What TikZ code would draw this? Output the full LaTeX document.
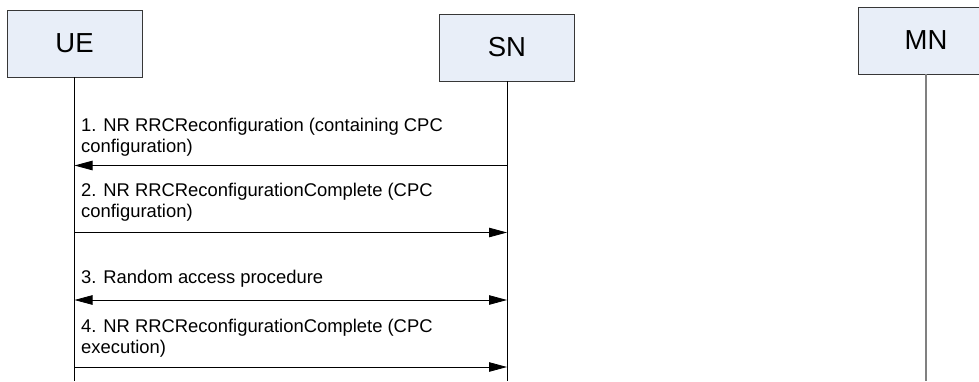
\documentclass[tikz,border=0pt]{standalone}
\usepackage{fontspec}
\setmainfont{Liberation Sans}
\usetikzlibrary{arrows.meta}
\definecolor{boxfill}{RGB}{232,238,248}
\definecolor{boxline}{RGB}{55,55,55}

\begin{document}
\begin{tikzpicture}[x=1pt,y=-1pt,>={Triangle[length=18pt,width=9.5pt]},
  entity/.style={draw=boxline,fill=boxfill,line width=0.9pt,minimum width=135pt,
                 minimum height=67pt,font=\fontsize{27.5}{30}\selectfont},
  life/.style={line width=0.8pt},
  msg/.style={line width=0.8pt},
  msgtext/.style={anchor=base west,align=left,inner sep=0pt,
                  font=\fontsize{18.4}{21}\selectfont}]
\useasboundingbox (0,0) rectangle (979,381);

% entities
\node[entity] (ue) at (74.5,43.5) {UE};
\node[entity] (sn) at (507,47.5)  {SN};
\node[entity] (mn) at (926,40.5)  {MN};
\coordinate (end) at (0,381);

% lifelines
\draw[life] (ue.south) -- (ue.south |- end);
\draw[life] (sn.south) -- (sn.south |- end);
\draw[life,gray,line width=1.2pt] (mn.south) -- (mn.south |- end);

% message points
\foreach \n/\y in {1/165.5,2/232.5,3/300,4/367} {
  \coordinate (ue\n) at (ue.south |- 0,\y);
  \coordinate (sn\n) at (sn.south |- 0,\y);
}

% messages (label anchored on its last baseline)
\draw[msg,->]  (sn1) -- (ue1);
\node[msgtext] (l1) at (81,152) {1. NR RRCReconfiguration (containing CPC\\configuration)};
\draw[msg,->]  (ue2) -- (sn2);
\node[msgtext] (l2) at (81,217) {2. NR RRCReconfigurationComplete (CPC\\configuration)};
\draw[msg,<->] (ue3) -- (sn3);
\node[msgtext] (l3) at (81,283) {3. Random access procedure};
\draw[msg,->]  (ue4) -- (sn4);
\node[msgtext] (l4) at (81,353) {4. NR RRCReconfigurationComplete (CPC\\execution)};
\end{tikzpicture}
\end{document}
